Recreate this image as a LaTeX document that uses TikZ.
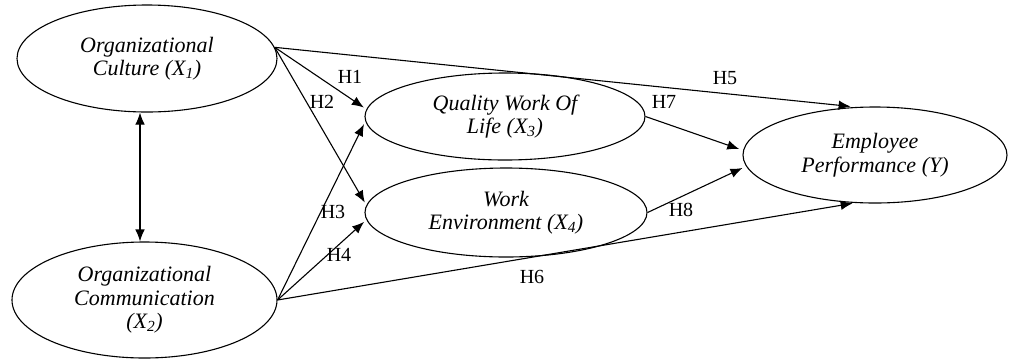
\documentclass[tikz,border=0pt]{standalone}
\usepackage{fontspec}
\setmainfont{Liberation Serif}
\usetikzlibrary{arrows.meta,shapes.geometric}
\begin{document}
\begin{tikzpicture}[x=1pt,y=-1pt,
  lat/.style={draw,ellipse,line width=1.1pt,inner sep=0pt,align=center,
    font=\fontsize{22}{23.5}\selectfont\itshape},
  tip/.tip={Latex[length=12pt,width=9.5pt]},
  arr/.style={line width=1.1pt,-tip},
  hl/.style={font=\fontsize{20}{22}\selectfont,inner sep=0pt}]
\useasboundingbox (0,0) rectangle (1009,360);
\node[lat,minimum width=260pt,minimum height=107pt] (c1) at (147,58.5)
  {Organizational\\Culture (X\textsubscript{1})};
\node[lat,minimum width=265pt,minimum height=116pt] (c2) at (144.5,300)
  {Organizational\\Communication\\(X\textsubscript{2})};
\node[lat,minimum width=280pt,minimum height=87pt] (q) at (505,116.5)
  {Quality Work Of\\Life (X\textsubscript{3})};
\node[lat,minimum width=282pt,minimum height=89pt] (w) at (506,212.5)
  {Work\\Environment (X\textsubscript{4})};
\node[lat,minimum width=264pt,minimum height=96pt] (y) at (875,155)
  {Employee\\Performance (Y)};

\draw[line width=1.1pt,tip-tip]
  ([xshift=-7pt]c1.south) -- ([xshift=-4.5pt]c2.north);

\draw[arr,shorten >=3pt] (c1.5) -- (q.177);
\draw[arr,shorten >=3pt] (c1.5) -- (w.177);
\draw[arr,shorten >=3pt] (c2.east) -- (q.182);
\draw[arr,shorten >=3pt] (c2.east) -- (w.183);
\draw[arr,shorten >=5pt] (c1.5) -- (y.112);
\draw[arr,shorten >=2pt] (c2.east) -- (y.247);
\draw[arr,shorten >=4pt] (q.east) -- (y.178);
\draw[arr,shorten >=4pt] (w.east) -- (y.185);

\node[hl] (h1) at (350,77) {H1};
\node[hl] (h2) at (322,102) {H2};
\node[hl] (h3) at (333,212) {H3};
\node[hl] (h4) at (339,255) {H4};
\node[hl] (h5) at (725,78) {H5};
\node[hl] (h6) at (532,277) {H6};
\node[hl] (h7) at (664,102) {H7};
\node[hl] (h8) at (681,210) {H8};
\end{tikzpicture}
\end{document}
